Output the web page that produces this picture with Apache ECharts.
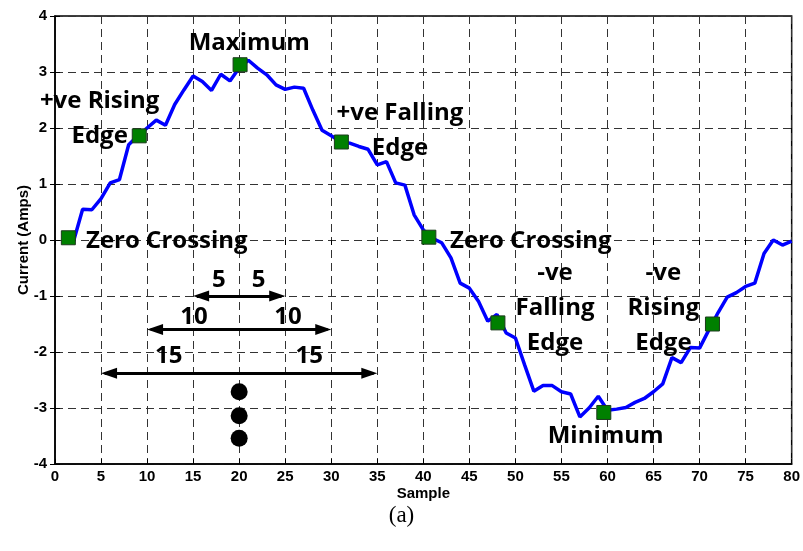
<!DOCTYPE html>
<html>
<head>
<meta charset="utf-8">
<script src="https://cdn.jsdelivr.net/npm/echarts@6/dist/echarts.min.js"></script>
<style>
  html, body { margin: 0; padding: 0; background: #fff; }
  #chart { width: 803px; height: 551px; }
</style>
</head>
<body>
<div id="chart"></div>
<script>
// Current waveform over 80 samples
const samples = [];
for (let i = 1; i <= 80; i++) samples.push(i);
const current = [
  0.00, -0.03, 0.55, 0.54, 0.74, 1.02, 1.08, 1.70, 1.86, 2.00,
  2.14, 2.05, 2.42, 2.68, 2.93, 2.83, 2.67, 2.96, 2.84, 3.07,
  3.21, 3.07, 2.95, 2.77, 2.69, 2.73, 2.71, 2.32, 1.96, 1.86,
  1.76, 1.73, 1.67, 1.62, 1.34, 1.40, 1.02, 0.98, 0.45, 0.18,
  0.03, -0.05, -0.32, -0.77, -0.86, -1.10, -1.45, -1.33, -1.66, -1.75,
  -2.23, -2.70, -2.60, -2.60, -2.71, -2.75, -3.16, -3.00, -2.79, -3.04,
  -3.02, -2.99, -2.90, -2.83, -2.71, -2.57, -2.10, -2.19, -1.92, -1.93,
  -1.61, -1.30, -1.02, -0.94, -0.83, -0.77, -0.24, 0.00, -0.09, -0.02
];

// Feature points on the waveform
const featureX = [1.45, 9.15, 20.1, 31.1, 40.6, 48.1, 59.6, 71.4];
const featureY = [0.04, 1.86, 3.13, 1.75, 0.05, -1.48, -3.08, -1.50];

// Feature captions (text, anchor x, anchor y, anchoring)
const captionText = ['Maximum', '+ve Rising\nEdge', '+ve Falling\nEdge', '-ve\nFalling\nEdge', '-ve\nRising\nEdge', 'Minimum', 'Zero Crossing', 'Zero Crossing'];
const captionX = [21.1, 4.85, 37.46, 54.3, 66.07, 59.8, 3.37, 42.9];
const captionY = [3.52, 2.17, 1.96, -1.21, -1.21, -3.51, -0.02, -0.02];
const captionAnchor = ['center', 'center', 'center', 'center', 'center', 'center', 'left', 'left'];

// Window spans around sample 20
const spanStart = [15, 10, 5];
const spanEnd = [25, 30, 35];
const spanLevel = [-1.0, -1.6, -2.38];
const spanText = ['5', '5', '10', '10', '15', '15'];
const spanTextX = [17.8, 22.1, 15.1, 25.3, 12.35, 27.6];
const spanTextY = [-0.71, -0.71, -1.37, -1.37, -2.08, -2.08];

// Continuation dots
const dotX = [20, 20, 20];
const dotY = [-2.71, -3.14, -3.54];

const xTicks = { min: 0, max: 80, interval: 5 };
const yTicks = { min: -4, max: 4, interval: 1 };

const annoFont = { fontFamily: 'Open Sans', fontWeight: 'bold', fontSize: 24, color: '#000', opacity: 1 };
const tickFont = { fontFamily: 'Liberation Sans', fontWeight: 'bold', fontSize: 15, color: '#000' };
const nameFont = { fontFamily: 'Liberation Sans', fontWeight: 'bold', fontSize: 15, color: '#000' };
const gridLine = { show: true, lineStyle: { color: '#333', width: 1, type: [8, 5] } };
const innerTick = { show: true, inside: true, length: 5, lineStyle: { color: '#000' } };

// Arrowhead: triangle of 16px length, its tip placed on the span end
const headSize = [11, 16];
const headShift = 8;

const chart = echarts.init(document.getElementById('chart'), null, { renderer: 'canvas' });

const captionData = captionText.map((t, i) => ({
  value: [captionX[i], captionY[i]],
  label: {
    formatter: t,
    position: captionAnchor[i] === 'left' ? 'right' : 'inside',
    distance: 0,
    align: captionAnchor[i] === 'left' ? 'left' : 'center'
  }
}));

const spanTextData = spanText.map((t, i) => ({
  value: [spanTextX[i], spanTextY[i]],
  label: { formatter: t }
}));

chart.setOption({
  animation: false,
  backgroundColor: '#fff',
  title: {
    text: '(a)',
    left: 'center',
    top: 499,
    textStyle: { fontFamily: 'Liberation Serif', fontWeight: 'normal', fontSize: 23, color: '#000' }
  },
  grid: { left: 55, right: 11, top: 16, bottom: 87, show: true, borderColor: '#000', borderWidth: 1.5, backgroundColor: 'transparent' },
  xAxis: [{
    type: 'value', min: xTicks.min, max: xTicks.max, interval: xTicks.interval,
    name: 'Sample', nameLocation: 'middle', nameGap: 22, nameMoveOverlap: false, nameTextStyle: nameFont,
    axisLine: { show: true, onZero: false, lineStyle: { color: '#000', width: 1.5 } },
    axisTick: innerTick,
    axisLabel: Object.assign({ margin: 5 }, tickFont),
    splitLine: gridLine
  }, {
    type: 'value', position: 'top', min: xTicks.min, max: xTicks.max, interval: xTicks.interval,
    axisLine: { show: false }, axisLabel: { show: false },
    axisTick: innerTick, splitLine: { show: false }
  }],
  yAxis: [{
    type: 'value', min: yTicks.min, max: yTicks.max, interval: yTicks.interval,
    name: 'Current (Amps)', nameLocation: 'middle', nameGap: 24, nameMoveOverlap: false, nameTextStyle: nameFont,
    axisLine: { show: true, onZero: false, lineStyle: { color: '#000', width: 1.5 } },
    axisTick: innerTick,
    axisLabel: Object.assign({ margin: 8 }, tickFont),
    splitLine: gridLine
  }, {
    type: 'value', position: 'right', min: yTicks.min, max: yTicks.max, interval: yTicks.interval,
    axisLine: { show: false }, axisLabel: { show: false },
    axisTick: innerTick, splitLine: { show: false }
  }],
  series: [
    {
      type: 'line',
      data: samples.map((s, i) => [s, current[i]]),
      showSymbol: false,
      lineStyle: { color: '#0000ff', width: 3.5 },
      z: 3
    },
    {
      type: 'scatter',
      data: featureX.map((x, i) => [x, featureY[i]]),
      symbol: 'rect',
      symbolSize: 14,
      itemStyle: { color: '#008000', borderColor: '#1c3a1c', borderWidth: 1, opacity: 1 },
      z: 4
    },
    {
      // span shafts, stopping short of the tips so the heads stay pointed
      type: 'lines',
      coordinateSystem: 'cartesian2d',
      data: spanStart.map((s, i) => ({ coords: [[s + 0.4, spanLevel[i]], [spanEnd[i] - 0.4, spanLevel[i]]] })),
      symbol: 'none',
      lineStyle: { color: '#000', width: 3, opacity: 1 },
      z: 4
    },
    {
      // left arrowheads
      type: 'scatter',
      data: spanStart.map((s, i) => [s, spanLevel[i]]),
      symbol: 'triangle',
      symbolSize: headSize,
      symbolRotate: 90,
      symbolOffset: [headShift, 0],
      itemStyle: { color: '#000', opacity: 1 },
      z: 4
    },
    {
      // right arrowheads
      type: 'scatter',
      data: spanEnd.map((s, i) => [s, spanLevel[i]]),
      symbol: 'triangle',
      symbolSize: headSize,
      symbolRotate: -90,
      symbolOffset: [-headShift, 0],
      itemStyle: { color: '#000', opacity: 1 },
      z: 4
    },
    {
      type: 'scatter',
      data: dotX.map((x, i) => [x, dotY[i]]),
      symbol: 'circle',
      symbolSize: 17,
      itemStyle: { color: '#000', opacity: 1 },
      z: 4
    },
    {
      type: 'scatter',
      data: spanTextData,
      symbolSize: 0,
      itemStyle: { opacity: 1 },
      label: Object.assign({ show: true, position: 'inside' }, annoFont),
      z: 5
    },
    {
      type: 'scatter',
      data: captionData,
      symbolSize: 0,
      itemStyle: { opacity: 1 },
      label: Object.assign({ show: true, lineHeight: 35 }, annoFont),
      z: 5
    }
  ]
});
</script>
</body>
</html>
